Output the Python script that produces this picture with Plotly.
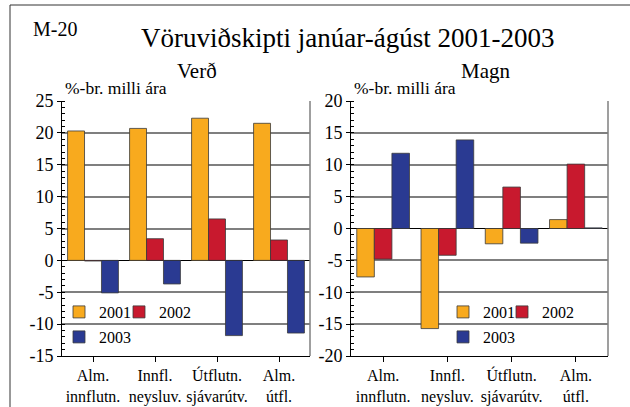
import plotly.graph_objects as go

# categories and values
categories = ["Alm.<br>innflutn.", "Innfl.<br>neysluv.", "Útflutn.<br>sjávarútv.", "Alm.<br>útfl."]
years = ["2001", "2002", "2003"]

verd_2001 = [20.3, 20.7, 22.3, 21.5]
verd_2002 = [-0.1, 3.4, 6.5, 3.2]
verd_2003 = [-5.1, -3.7, -11.8, -11.4]

magn_2001 = [-7.6, -15.7, -2.4, 1.4]
magn_2002 = [-4.8, -4.2, 6.5, 10.1]
magn_2003 = [11.8, 13.9, -2.3, 0.1]

verd_ticks = [-15, -10, -5, 0, 5, 10, 15, 20, 25]
magn_ticks = [-20, -15, -10, -5, 0, 5, 10, 15, 20]

colors = ["#F8AA1E", "#C8192E", "#2A3A92"]
FONT = "Liberation Serif"
W, H = 630, 407


def px(x):
    return x / W


def py(y):
    return 1 - y / H


fig = go.Figure()

verd = [verd_2001, verd_2002, verd_2003]
magn = [magn_2001, magn_2002, magn_2003]
# one legend per entry so the 2 + 1 layout of the original can be placed freely
left_legends = ["legend", "legend2", "legend3"]
right_legends = ["legend4", "legend5", "legend6"]

for i, year in enumerate(years):
    fig.add_trace(go.Bar(
        x=categories, y=verd[i], name=year,
        marker=dict(color=colors[i], line=dict(color="#3a3a3a", width=0.8)),
        xaxis="x", yaxis="y", legend=left_legends[i],
    ))
for i, year in enumerate(years):
    fig.add_trace(go.Bar(
        x=categories, y=magn[i], name=year,
        marker=dict(color=colors[i], line=dict(color="#3a3a3a", width=0.8)),
        xaxis="x2", yaxis="y2", legend=right_legends[i],
    ))

xcommon = dict(
    showline=True, linecolor="black", linewidth=1,
    ticks="outside", ticklen=5, tickcolor="black",
    tickfont=dict(family=FONT, size=16, color="black"),
    showgrid=False, fixedrange=True, automargin=False,
)
ycommon = dict(
    showline=True, linecolor="black", linewidth=1,
    ticks="outside", ticklen=4, tickcolor="black",
    tickfont=dict(family=FONT, size=18, color="black"),
    showgrid=True, gridcolor="#7f7f7f", gridwidth=1.5,
    zeroline=True, zerolinecolor="black", zerolinewidth=1,
    minor=dict(dtick=1, ticks="inside", ticklen=3, tickcolor="black", showgrid=False),
    fixedrange=True, automargin=False,
)

legend_common = dict(
    orientation="h", bgcolor="rgba(0,0,0,0)", borderwidth=0,
    font=dict(family=FONT, size=16, color="black"),
    xanchor="left", yanchor="middle", itemclick=False,
)

fig.update_layout(
    width=W, height=H,
    margin=dict(l=0, r=0, t=0, b=0, autoexpand=False),
    paper_bgcolor="white", plot_bgcolor="white",
    showlegend=True,
    barmode="group", bargap=0.18, bargroupgap=0,
    font=dict(family=FONT, color="black"),
    xaxis=dict(domain=[px(62), px(310)], anchor="y", **xcommon),
    yaxis=dict(domain=[py(356), py(101)], anchor="x", range=[-15, 25],
               tickvals=verd_ticks, ticktext=[str(v) for v in verd_ticks], **ycommon),
    xaxis2=dict(domain=[px(351), px(608)], anchor="y2", **xcommon),
    yaxis2=dict(domain=[py(356), py(101)], anchor="x2", range=[-20, 20],
                tickvals=magn_ticks, ticktext=[str(v) for v in magn_ticks], **ycommon),
    legend=dict(x=px(59), y=py(312), **legend_common),
    legend2=dict(x=px(119), y=py(312), **legend_common),
    legend3=dict(x=px(59), y=py(337), **legend_common),
    legend4=dict(x=px(443), y=py(312), **legend_common),
    legend5=dict(x=px(502), y=py(312), **legend_common),
    legend6=dict(x=px(443), y=py(337), **legend_common),
)

# white legend panels that mask the gridlines, under the bars
for x0, x1 in [(77, 207), (459, 593)]:
    fig.add_shape(type="rect", xref="paper", yref="paper", layer="between",
                  x0=px(x0), x1=px(x1), y0=py(350), y1=py(300),
                  fillcolor="white", line=dict(width=0))

# right-hand gray frame edge of each panel
for xd, yd in [("x domain", "y domain"), ("x2 domain", "y2 domain")]:
    fig.add_shape(type="line", xref=xd, yref=yd, x0=1, x1=1, y0=0, y1=1,
                  line=dict(color="#7f7f7f", width=1.5))

# outer frame (top and left edges)
fig.add_shape(type="line", xref="paper", yref="paper", x0=px(10), x1=1, y0=py(5), y1=py(5),
              line=dict(color="#333333", width=1))
fig.add_shape(type="line", xref="paper", yref="paper", x0=px(10), x1=px(10), y0=py(5), y1=0,
              line=dict(color="#333333", width=1))

texts = [
    ("M-20", 55, 29, 20, "center"),
    ("Vöruviðskipti janúar-ágúst 2001-2003", 347, 38, 27, "center"),
    ("Verð", 197, 71, 21, "center"),
    ("Magn", 485, 71, 21, "center"),
    ("%-br. milli ára", 63, 88, 17.5, "left"),
    ("%-br. milli ára", 352, 88, 17.5, "left"),
]
for t, x, y, s, al in texts:
    fig.add_annotation(text=t, x=px(x), y=py(y), xref="paper", yref="paper",
                       xanchor=al, yanchor="middle", showarrow=False,
                       font=dict(family=FONT, size=s, color="black"))

# pin the chart to the top-left corner of the page
pin = ("document.body.style.margin='0';"
       "var d=document.getElementById('{plot_id}');"
       "d.style.position='absolute';d.style.left='0px';d.style.top='0px';")
fig.write_html("out.html", post_script=pin, config={"displayModeBar": False})
